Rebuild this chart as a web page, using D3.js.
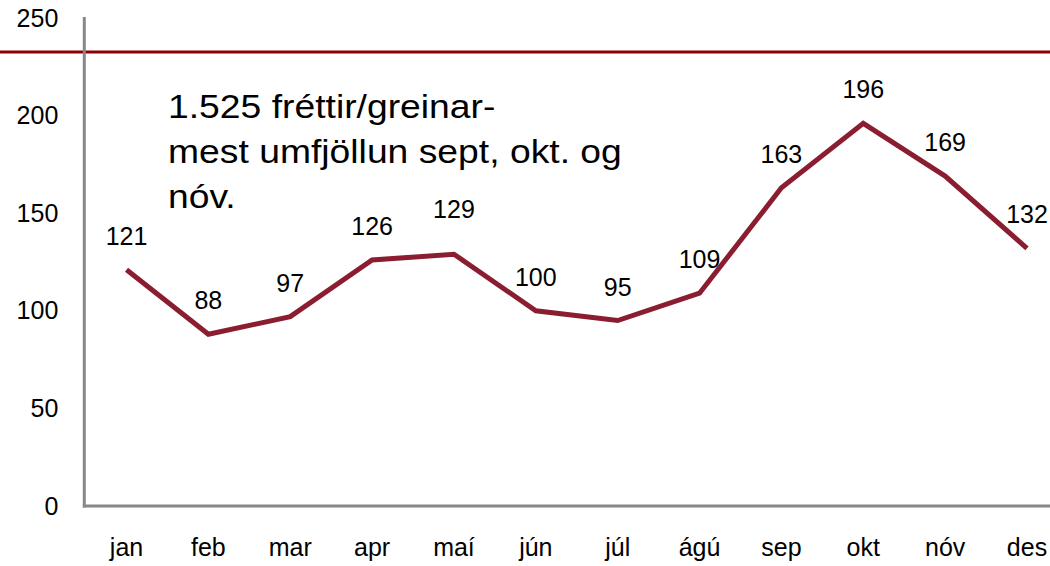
<!DOCTYPE html>
<html>
<head>
<meta charset="utf-8">
<script src="https://cdn.jsdelivr.net/npm/d3@7"></script>
<style>
  html, body { margin: 0; padding: 0; background: #fff; }
  svg { display: block; font-family: "Liberation Sans", Arial, sans-serif; }
</style>
</head>
<body>
<svg id="chart" width="1050" height="566"></svg>
<script>
const months = ["jan", "feb", "mar", "apr", "maí", "jún", "júl", "ágú", "sep", "okt", "nóv", "des"];
const values = [121, 88, 97, 126, 129, 100, 95, 109, 163, 196, 169, 132];
const yTicks = [0, 50, 100, 150, 200, 250];
const noteLines = ["1.525 fréttir/greinar-", "mest umfjöllun sept, okt. og", "nóv."];

const svg = d3.select("#chart");
const W = 1050, H = 566;
const x0 = 85.6, step = 81.86;

const x = d3.scaleBand().domain(months).range([x0, x0 + step * months.length]).padding(0);
const y = d3.scaleLinear().domain([0, 250]).range([506, 18]);

// decorative header rule
svg.append("line")
  .attr("x1", 0).attr("x2", W).attr("y1", 52).attr("y2", 52)
  .attr("stroke", "#8B0000").attr("stroke-width", 3);

// y axis
const yAxis = svg.append("g").attr("transform", `translate(${x0 - 1.3},0)`)
  .call(d3.axisLeft(y).tickValues(yTicks).tickSize(0).tickPadding(26));
yAxis.select(".domain").attr("stroke", "#888").attr("stroke-width", 3)
  .attr("d", `M0,${y(250) - 1}V${y(0) + 1.5}`);
yAxis.selectAll("text").attr("font-size", 25).attr("fill", "#000")
  .attr("font-family", "Liberation Sans, Arial, sans-serif");

// x axis
const xAxis = svg.append("g").attr("transform", `translate(0,${y(0)})`)
  .call(d3.axisBottom(x).tickSize(0).tickPadding(32));
xAxis.select(".domain").attr("stroke", "#888").attr("stroke-width", 3)
  .attr("d", `M${x0 - 2.8},0H${W + 20}`);
xAxis.selectAll("text").attr("font-size", 25).attr("fill", "#000")
  .attr("font-family", "Liberation Sans, Arial, sans-serif");

const cx = d => x(d) + x.bandwidth() / 2;

// line
const line = d3.line().x((d, i) => cx(months[i])).y(d => y(d));
svg.append("path").datum(values)
  .attr("d", line)
  .attr("fill", "none")
  .attr("stroke", "#8B1D30")
  .attr("stroke-width", 5)
  .attr("stroke-linejoin", "miter");

// data labels (the "maí" label sits a little higher in the original)
svg.append("g").selectAll("text").data(values).join("text")
  .attr("x", (d, i) => cx(months[i]))
  .attr("y", (d, i) => y(d) - (i === 4 ? 36 : 25))
  .attr("text-anchor", "middle")
  .attr("font-size", 25)
  .attr("fill", "#000")
  .text(d => d);

// annotation (horizontally widened like the original)
svg.append("g").attr("transform", "translate(168,0) scale(1.13,1)")
  .selectAll("text").data(noteLines).join("text")
  .attr("x", 0)
  .attr("y", (d, i) => 118 + i * 45)
  .attr("font-size", 33)
  .attr("fill", "#000")
  .text(d => d);
</script>
</body>
</html>
